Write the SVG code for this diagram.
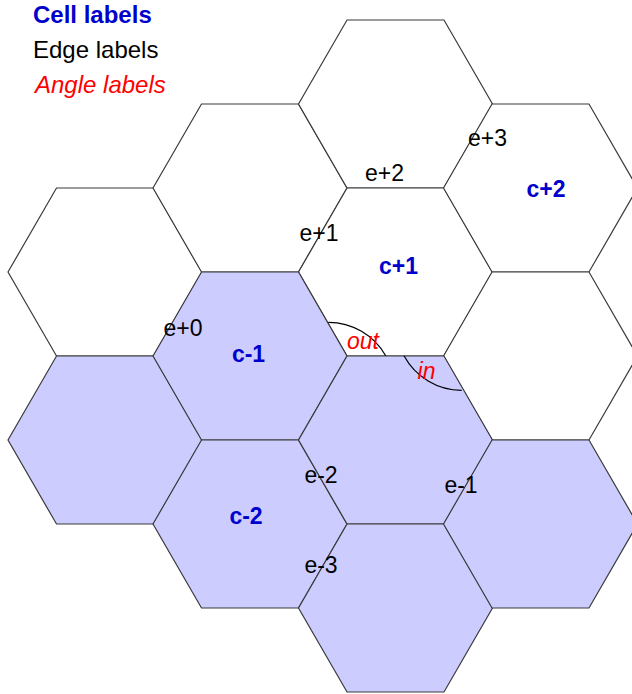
<svg xmlns="http://www.w3.org/2000/svg" xmlns:xlink="http://www.w3.org/1999/xlink" width="632" height="694" viewBox="0 0 632 694">
<style>
.hex{stroke:#3a3a3a;stroke-width:1.2;stroke-linejoin:miter}
.w{fill:#ffffff}
.p{fill:#ccccff}
.cell{font-family:"Liberation Sans",Arial,sans-serif;font-weight:bold;font-size:23px;fill:#0000cc}
.edge{font-family:"Liberation Sans",Arial,sans-serif;font-size:23px;fill:#000000}
.ang{font-family:"Liberation Sans",Arial,sans-serif;font-style:italic;font-size:23px;fill:#ff0000}
.legend{font-size:24px}
.arc{fill:none;stroke:#000000;stroke-width:1.2}
</style>
<defs>
<polygon id="hx" points="-97,0 -48.5,-84 48.5,-84 97,0 48.5,84 -48.5,84"/>
</defs>
<rect width="632" height="694" fill="#ffffff"/>
<g id="hexes">
<g id="hex-w1"><use xlink:href="#hx" class="hex w" x="105" y="272"/></g>
<g id="hex-w2"><use xlink:href="#hx" class="hex w" x="250" y="188"/></g>
<g id="hex-w3"><use xlink:href="#hx" class="hex w" x="395.5" y="104"/></g>
<g id="cell-c+1"><use xlink:href="#hx" class="hex w" x="395.5" y="272"/></g>
<g id="cell-c+2"><use xlink:href="#hx" class="hex w" x="540.5" y="188"/></g>
<g id="hex-w4"><use xlink:href="#hx" class="hex w" x="540.5" y="356"/></g>
<g id="hex-p1"><use xlink:href="#hx" class="hex p" x="105" y="440"/></g>
<g id="cell-c-1"><use xlink:href="#hx" class="hex p" x="250" y="356"/></g>
<g id="cell-c-2"><use xlink:href="#hx" class="hex p" x="250" y="524"/></g>
<g id="hex-p2"><use xlink:href="#hx" class="hex p" x="395.5" y="440"/></g>
<g id="hex-p3"><use xlink:href="#hx" class="hex p" x="395.5" y="608"/></g>
<g id="hex-p4"><use xlink:href="#hx" class="hex p" x="540.5" y="524"/></g>
</g>
<g id="connectors">
<path class="arc" d="M328.3,322.3 A66,66 0 0 1 385.7,355.7"/>
<path class="arc" d="M404,355.7 A66,66 0 0 0 461.7,390.3"/>
</g>
<g id="legend">
<text class="cell legend" x="33" y="23">Cell labels</text>
<text class="edge legend" x="33" y="58">Edge labels</text>
<text class="ang legend" x="35" y="93">Angle labels</text>
</g>
<g id="cell-labels">
<text class="cell" x="398.5" y="274" text-anchor="middle">c+1</text>
<text class="cell" x="546" y="197" text-anchor="middle">c+2</text>
<text class="cell" x="248.5" y="361.5" text-anchor="middle">c-1</text>
<text class="cell" x="246" y="524" text-anchor="middle">c-2</text>
</g>
<g id="edge-labels">
<text class="edge" x="183" y="335.5" text-anchor="middle">e+0</text>
<text class="edge" x="319" y="241" text-anchor="middle">e+1</text>
<text class="edge" x="384.5" y="181" text-anchor="middle">e+2</text>
<text class="edge" x="487.5" y="145.5" text-anchor="middle">e+3</text>
<text class="edge" x="461" y="492.5" text-anchor="middle">e-1</text>
<text class="edge" x="321" y="482.5" text-anchor="middle">e-2</text>
<text class="edge" x="321" y="572.5" text-anchor="middle">e-3</text>
</g>
<g id="angle-labels">
<text class="ang" x="363" y="349" text-anchor="middle">out</text>
<text class="ang" x="426.5" y="378.5" text-anchor="middle">in</text>
</g>
</svg>
